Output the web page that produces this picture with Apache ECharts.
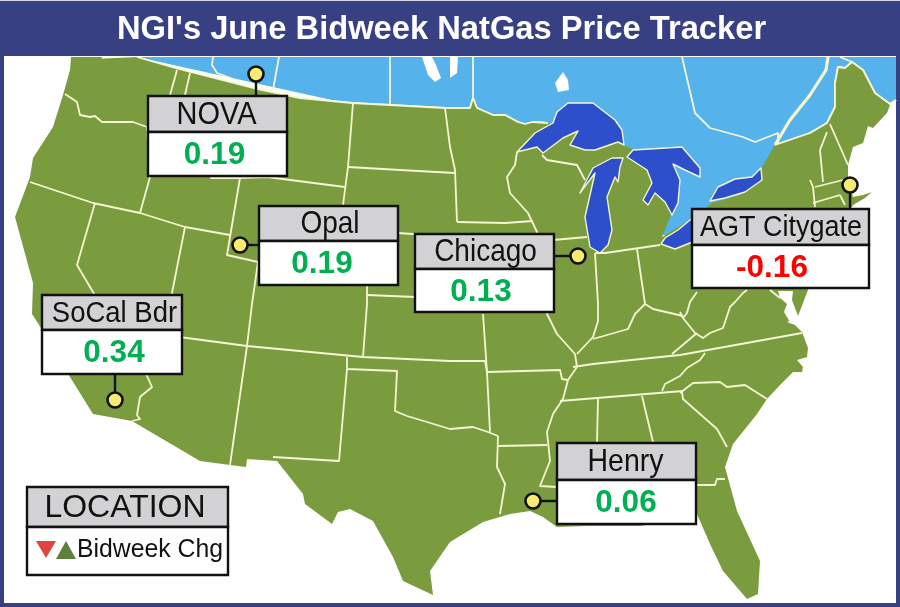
<!DOCTYPE html>
<html><head><meta charset="utf-8">
<style>html,body{margin:0;padding:0;background:#fff}#c{width:900px;height:607px}</style>
<script src="https://cdn.jsdelivr.net/npm/echarts@6/dist/echarts.min.js"></script>
</head><body><div id="c"></div>
<script>
// ---- chart data ----
const titleText = "NGI's June Bidweek NatGas Price Tracker";
const hubNames = ['NOVA','Opal','Chicago','AGT Citygate','SoCal Bdr','Henry'];
const hubChanges = [0.19,0.19,0.13,-0.16,0.34,0.06];
const hubLocations = [[256,74],[240,245],[578,256],[850,185],[115,400],[533,501]];
const legendTitle = 'LOCATION';
const legendText = 'Bidweek Chg';

// ---- layout of call-out boxes ----
const boxFrames = [[148,96,139,80,36],[259,206,139,79,35],[415,234,139,78,35],[692,209,177,79,36],[42,295,140,79,35],[557,443,139,81,37]];
const boxFonts = [29,28,28,27,27.5,28.5];
const nameCentres = [216.5,330,485.5,781,114.5,625.5];
const valueCentres = [214.5,322,481,772,114,626];
const legendFrame = [27,487,201,88,40];

// ---- base map outlines ----
const canada = [[137,57],[896,57],[896,100],[880,108],[780,150],[710,235],[640,235],[520,125],[350,104]];
const usOutline = [[71,57],[82,57],[102,57],[100,63],[97,70],[99,63],[93,59],[137,57],[175,68],[253,88],[300,98],[352,103],[390,105],[445,108],[470,108],[473,98],[477,108],[493,115],[505,115],[518,122],[525,124],[533,122],[548,123],[590,130],[623,145],[640,152],[660,190],[671,215],[662,237],[690,220],[712,203],[740,195],[762,167],[775,145],[810,133],[827,123],[835,107],[835,83],[838,67],[845,68],[852,62],[863,70],[875,93],[890,105],[887,113],[873,128],[868,126],[863,143],[853,147],[848,165],[848,177],[853,197],[863,195],[872,192],[865,198],[853,205],[852,207],[830,212],[815,250],[808,290],[803,303],[798,316],[787,322],[795,325],[802,332],[805,340],[808,348],[807,357],[797,360],[803,367],[802,372],[793,372],[780,385],[767,399],[757,414],[733,444],[725,467],[737,511],[760,561],[758,594],[747,599],[723,571],[710,544],[697,514],[675,520],[640,526],[587,526],[557,527],[543,517],[530,511],[510,514],[483,522],[450,542],[430,571],[433,595],[403,581],[393,557],[373,521],[350,509],[338,512],[332,524],[305,504],[303,494],[277,461],[247,459],[246,467],[230,465],[200,461],[132,421],[93,414],[70,377],[43,331],[32,314],[33,283],[15,217],[30,177],[33,158],[53,127],[63,95],[70,70]];
const lakes = [
 [[517,152],[535,133],[553,123],[557,112],[568,103],[593,103],[615,120],[622,130],[624,145],[618,142],[595,150],[585,150],[570,145],[578,131],[563,138],[543,153],[537,147]],
 [[623,158],[612,158],[593,168],[580,193],[595,173],[585,217],[590,247],[600,253],[608,245],[612,230],[607,197],[615,177],[618,182],[620,167]],
 [[633,150],[682,147],[700,168],[700,177],[685,170],[673,164],[680,180],[678,203],[672,215],[665,202],[655,193],[648,205],[643,200],[652,183],[647,170],[627,157]],
 [[661,244],[665,238],[678,230],[690,220],[712,212],[712,232],[690,243],[675,249]],
 [[710,201],[718,187],[735,179],[752,177],[761,168],[762,180],[745,192],[725,198]]
];
const canadaLakes = [
 [[422,57],[428,75],[435,82],[441,78],[436,65],[432,57]],
 [[450,57],[458,57],[457,73],[450,78]],
 [[563,72],[555,83],[558,92],[569,90],[568,80]]
];
const bays = [[[778,291],[793,291],[792,300],[798,316],[790,322],[784,312],[787,304],[780,298]]];
const canadaLines = [
 [[213,57],[212,65],[217,73],[236,80]],[[279,57],[273,90]],[[390,57],[390,104]],[[473,57],[473,98]],
 [[682,57],[695,113],[710,128],[743,137],[755,142],[778,133],[778,143]],
 [[852,62],[840,57]],
 [[137,57],[175,68],[253,88],[300,98],[352,103],[390,105],[445,108],[470,108],[473,98],[477,108],[493,115],[505,115],[518,122],[525,124],[533,122],[548,123]],
 [[775,145],[810,133],[827,123],[835,107],[835,83],[838,67],[845,68],[852,62],[863,70],[875,93],[890,104],[896,100]]
];
const riverLine = [[828,57],[826,70],[810,95],[790,120],[775,145]];
const stateLines = [
 [[65,94],[77,102],[80,115],[90,117],[95,116],[102,122],[133,122],[147,127]],[[177,70],[170,95]],[[190,73],[185,95],[195,135],[211,178],[240,178],[267,177],[345,187]],
 [[240,178],[230,237],[227,255],[258,262],[335,270]],[[30,182],[93,203],[140,213],[185,227],[230,235]],[[147,127],[150,177],[140,213]],
 [[95,203],[77,265],[93,292],[147,376],[152,387],[140,397],[137,415],[140,419],[132,421]],[[185,227],[172,293],[172,336]],[[172,336],[247,346],[363,357],[450,361],[485,361]],
 [[258,262],[252,304],[247,346],[230,465]],[[353,103],[348,167],[343,205]],[[348,167],[400,170],[455,173]],[[445,108],[450,147],[455,170],[457,222]],
 [[367,270],[367,304],[363,357]],[[367,295],[415,297]],[[398,233],[457,237]],[[457,222],[505,223],[533,221]],
 [[517,152],[515,165],[507,177],[510,193],[528,213],[537,232],[538,240]],[[553,240],[587,237]],[[483,314],[487,372]],[[487,372],[560,370],[562,379],[568,380]],
 [[347,357],[347,369],[397,371],[395,411],[407,416],[427,422],[450,429],[473,427],[488,432],[498,436]],[[485,361],[487,372],[490,432]],
 [[498,446],[547,445]],[[498,436],[497,467],[505,484],[500,514]],[[577,367],[568,380],[563,399],[553,414],[547,432],[550,461],[540,486],[557,487]],
 [[553,280],[547,314],[557,334],[575,354],[577,367]],[[347,369],[339,461],[273,457]],[[598,399],[597,442]],[[642,396],[653,442]],
 [[697,485],[715,485],[717,479],[725,479]],[[560,401],[683,391]],[[573,367],[593,364],[670,356],[680,355],[802,333]],
 [[705,353],[700,360],[687,368],[680,376],[665,384],[662,391]],[[680,393],[693,383],[720,382],[727,387],[745,385],[767,399]],[[682,392],[683,399],[717,429],[727,447]],
 [[672,354],[697,333]],[[680,312],[683,318],[695,333],[703,338],[710,333],[723,328],[730,307],[735,302],[743,293],[747,290]],[[683,318],[687,313],[690,302],[697,292]],[[577,354],[593,337],[598,321],[598,304],[595,253]],
 [[593,339],[628,329],[635,314],[645,304],[653,309],[683,316]],[[595,253],[605,253],[660,245]],[[637,249],[645,304]],
 [[542,155],[547,160],[577,165],[585,180]],[[810,180],[813,187],[815,207]],[[820,150],[823,182]],[[827,132],[820,150]],[[830,124],[848,165]],
 [[815,187],[843,180]],[[813,203],[840,195]],[[840,195],[845,205]],[[770,290],[780,298]]
];

// ---- colours ----
const navy='#384084', green='#7A9C3F', sky='#55B2EB', lakeBlue='#2D4FCB', cream='#F6F6D2', grey='#D2D2D4';

const base={type:'custom',coordinateSystem:'cartesian2d',silent:true,clip:false,animation:false,encode:{x:0,y:1}};
function polygons(list,fill,stroke,lw,z){return Object.assign({},base,{z,data:list.map(()=>[0,0]),
  renderItem:(p,api)=>({type:'polygon',shape:{points:list[p.dataIndex].map(c=>api.coord(c))},style:{fill,stroke:stroke||null,lineWidth:lw||0,lineJoin:'round'}})});}
function polylines(list,stroke,lw,z){return Object.assign({},base,{z,data:list.map(()=>[0,0]),
  renderItem:(p,api)=>({type:'polyline',shape:{points:list[p.dataIndex].map(c=>api.coord(c))},style:{fill:null,stroke,lineWidth:lw,lineJoin:'round'}})});}
function rectEl(a,b,w,h,fill){return {type:'rect',shape:{x:a,y:b,width:w,height:h},style:{fill,stroke:'#111',lineWidth:2.4}};}
function tallText(x,y,text,font,align,sy){return {type:'text',x,y,scaleY:sy,style:{x:0,y:0,text,align,verticalAlign:'middle',fill:'#111',font}};}

const frame=Object.assign({},base,{z:0,data:[[0,0]],renderItem:(p,api)=>{
  const a=api.coord([0,0]);return {type:'group',children:[
    {type:'rect',shape:{x:a[0],y:a[1],width:900,height:607},style:{fill:navy}},
    {type:'rect',shape:{x:a[0],y:a[1],width:900,height:1},style:{fill:'#D6D8E6'}},
    {type:'rect',shape:{x:a[0]+4,y:a[1]+56,width:892,height:547},style:{fill:'#fff'}}]};}});

const connectors=Object.assign({},base,{z:8,data:hubLocations.map(()=>[0,0]),renderItem:(p,api)=>{
  const i=p.dataIndex,h=api.coord(hubLocations[i]),f=boxFrames[i];let e;
  if(h[0]<f[0]) e=[f[0],h[1]]; else if(h[0]>f[0]+f[2]) e=[f[0]+f[2],h[1]];
  else if(h[1]<f[1]) e=[h[0],f[1]]; else e=[h[0],f[1]+f[3]];
  return {type:'line',shape:{x1:h[0],y1:h[1],x2:e[0],y2:e[1]},style:{stroke:'#111',lineWidth:2.4}};}});

const boxes=Object.assign({},base,{z:9,data:hubNames.map(()=>[0,0]),renderItem:(p,api)=>{
  const i=p.dataIndex,f=boxFrames[i],v=hubChanges[i];
  return {type:'group',children:[
   rectEl(f[0],f[1],f[2],f[4],grey),rectEl(f[0],f[1]+f[4],f[2],f[3]-f[4],'#fff'),
   tallText(nameCentres[i],f[1]+f[4]/2+1,hubNames[i],boxFonts[i]+'px "Liberation Sans"','center',1.1),
   {type:'text',style:{x:valueCentres[i],y:f[1]+f[4]+(f[3]-f[4])/2+1.5,text:v.toFixed(2),align:'center',verticalAlign:'middle',fill:v<0?'#FF0000':'#00B050',font:'bold 31.5px "Liberation Sans"'}}
  ]};}});

const legendBox=Object.assign({},base,{z:9,data:[[0,0]],renderItem:()=>{
  const f=legendFrame;return {type:'group',children:[
   rectEl(f[0],f[1],f[2],f[4],grey),rectEl(f[0],f[1]+f[4],f[2],f[3]-f[4],'#fff'),
   tallText(125,f[1]+f[4]/2+1,legendTitle,'32px "Liberation Sans"','center',1),
   {type:'polygon',shape:{points:[[36,541],[56,541],[46,558]]},style:{fill:'#E0443E'}},
   {type:'polygon',shape:{points:[[56,559],[76,559],[66,541]]},style:{fill:'#5F7F3F'}},
   tallText(77,550,legendText,'24.8px "Liberation Sans"','left',1.05)
  ]};}});

const chart=echarts.init(document.getElementById('c'),null,{renderer:'canvas'});
chart.setOption({
 animation:false,
 title:{text:titleText,left:117,top:13,padding:0,itemGap:0,textStyle:{color:'#fff',fontFamily:'Liberation Sans',fontWeight:'bold',fontSize:32.7}},
 grid:{left:0,right:0,top:0,bottom:0},
 xAxis:{type:'value',min:0,max:900,show:false},
 yAxis:{type:'value',min:0,max:607,inverse:true,show:false},
 series:[
  frame,
  polygons([canada],sky,null,0,1),
  polylines(canadaLines,cream,1.8,2),
  polylines([riverLine],cream,3.2,2),
  polygons(canadaLakes,'#fff',null,0,2),
  polygons([usOutline],green,null,0,3),
  polygons(bays,'#fff',null,0,3),
  polylines(stateLines,cream,1.8,4),
  polylines(canadaLines.slice(-2),cream,1.8,4),
  polygons(lakes,lakeBlue,cream,1.4,5),
  connectors,
  boxes,
  legendBox,
  {type:'scatter',z:10,silent:true,animation:false,symbol:'circle',symbolSize:15,
   data:hubLocations,itemStyle:{color:'#F8EC70',borderColor:'#111',borderWidth:2.6,opacity:1}}
 ]
});
</script></body></html>
